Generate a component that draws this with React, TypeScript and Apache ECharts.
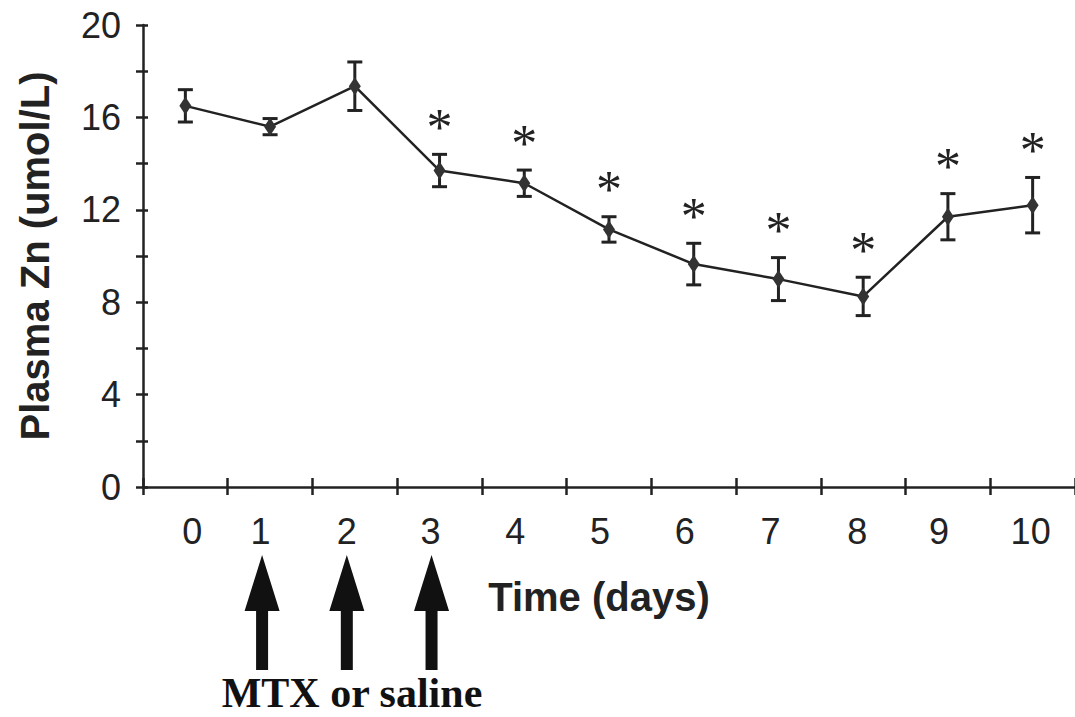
import React, { useEffect, useRef } from "react";
import * as echarts from "echarts";

const days = ["0", "1", "2", "3", "4", "5", "6", "7", "8", "9", "10"];
const means = [16.5, 15.6, 17.35, 13.7, 13.15, 11.15, 9.65, 9.0, 8.25, 11.7, 12.2];
const sems = [0.7, 0.35, 1.05, 0.7, 0.57, 0.55, 0.9, 0.93, 0.83, 1.0, 1.2];
const significant = [false, false, false, true, true, true, true, true, true, true, true];
const arrowDays = ["1", "2", "3"];
const yMin = 0;
const yMax = 20;
const yLabelStep = 4;
const yTickStep = 2;

// presentation-only nudges of the day labels (px, relative to the category centre)
const labelNudge = [7, -9.5, -8, -9, -9, -9, -9, -8, -6, -9, -2];

const INK = "#222";

export default function App() {
  const ref = useRef<HTMLDivElement>(null);
  useEffect(() => {
    if (!ref.current) return;
    const chart = echarts.init(ref.current, undefined, { renderer: "svg" });
    const grid = { left: 143, top: 25, width: 936, height: 462 };
    const labelFont = { color: INK, fontSize: 36, fontFamily: "Liberation Sans, Arial" };
    const rich: any = {};
    labelNudge.forEach((d, i) => {
      rich["n" + i] = {
        ...labelFont,
        padding: d >= 0 ? [0, 0, 0, 2 * d] : [0, -2 * d, 0, 0],
      };
    });
    const option: any = {
      animation: false,
      backgroundColor: "#fff",
      grid,
      xAxis: [
        {
          type: "category",
          data: days,
          position: "bottom",
          boundaryGap: true,
          axisLine: { show: true, lineStyle: { color: INK, width: 2.5 } },
          axisTick: { show: true, length: 8, lineStyle: { color: INK, width: 2.5 } },
          axisLabel: {
            ...labelFont,
            margin: 26,
            interval: 0,
            formatter: (v: string, i: number) => `{n${i}|${v}}`,
            rich,
          },
          name: "Time (days)",
          nameLocation: "middle",
          nameGap: 90,
          nameTextStyle: {
            color: INK,
            fontSize: 40,
            fontWeight: "bold",
            fontFamily: "Liberation Sans, Arial",
            padding: [0, 20, 0, 0],
          },
        },
        {
          type: "category",
          data: days,
          position: "bottom",
          boundaryGap: true,
          axisLine: { show: false },
          axisTick: { show: true, inside: true, length: 9, lineStyle: { color: INK, width: 2.5 } },
          axisLabel: { show: false },
        },
      ],
      yAxis: [
        {
          type: "value",
          min: yMin,
          max: yMax,
          interval: yTickStep,
          position: "left",
          splitLine: { show: false },
          axisLine: { show: true, lineStyle: { color: INK, width: 2.5 } },
          axisTick: { show: true, length: 7, lineStyle: { color: INK, width: 2.5 } },
          axisLabel: {
            ...labelFont,
            margin: 22,
            formatter: (v: number) => (v % yLabelStep === 0 ? String(v) : ""),
          },
          name: "Plasma Zn (umol/L)",
          nameLocation: "middle",
          nameGap: 88,
          nameTextStyle: {
            color: INK,
            fontSize: 40,
            fontWeight: "bold",
            fontFamily: "Liberation Sans, Arial",
          },
        },
        {
          type: "value",
          min: yMin,
          max: yMax,
          interval: yTickStep,
          position: "left",
          splitLine: { show: false },
          axisLine: { show: false },
          axisTick: { show: true, inside: true, length: 5, lineStyle: { color: INK, width: 2.5 } },
          axisLabel: { show: false },
        },
      ],
      series: [
        {
          type: "custom",
          z: 1,
          data: days.map((d, i) => [i, means[i], sems[i]]),
          renderItem: (params: any, api: any) => {
            const x = api.value(0);
            const m = api.value(1);
            const e = api.value(2);
            const top = api.coord([x, m + e]);
            const bot = api.coord([x, m - e]);
            const hw = 7.5;
            const st = { stroke: INK, lineWidth: 3 };
            return {
              type: "group",
              children: [
                { type: "line", shape: { x1: top[0], y1: top[1], x2: bot[0], y2: bot[1] }, style: st },
                { type: "line", shape: { x1: top[0] - hw, y1: top[1], x2: top[0] + hw, y2: top[1] }, style: st },
                { type: "line", shape: { x1: bot[0] - hw, y1: bot[1], x2: bot[0] + hw, y2: bot[1] }, style: st },
              ],
            };
          },
        },
        {
          type: "line",
          z: 3,
          data: means,
          symbol: "diamond",
          symbolSize: [12, 18],
          itemStyle: { color: "#333" },
          lineStyle: { color: INK, width: 2.5 },
        },
        {
          type: "custom",
          z: 4,
          data: days
            .map((d, i) => [i, means[i] + sems[i], significant[i] ? 1 : 0])
            .filter((r) => r[2] === 1),
          renderItem: (params: any, api: any) => {
            const p = api.coord([api.value(0), api.value(1)]);
            return {
              type: "text",
              x: p[0],
              y: p[1] - 27,
              style: {
                text: "*",
                fill: INK,
                fontSize: 52,
                fontFamily: "Liberation Serif, Times New Roman",
                align: "center",
                verticalAlign: "middle",
              },
            };
          },
        },
      ],
    };
    chart.setOption(option);

    const arrows: any[] = arrowDays.map((d) => {
      const px = chart.convertToPixel({ xAxisIndex: 0 }, d) as number;
      const cx = px - 8;
      return {
        type: "polygon",
        shape: {
          points: [
            [cx, 555],
            [cx + 17.5, 611],
            [cx + 6, 611],
            [cx + 6, 670],
            [cx - 6, 670],
            [cx - 6, 611],
            [cx - 17.5, 611],
          ],
        },
        style: { fill: "#111" },
      };
    });
    chart.setOption({
      graphic: [
        ...arrows,
        {
          type: "text",
          x: 352,
          y: 693,
          style: {
            text: "MTX or saline",
            fill: "#111",
            fontSize: 42,
            fontWeight: "bold",
            fontFamily: "Liberation Serif, Times New Roman",
            align: "center",
            verticalAlign: "middle",
          },
        },
      ],
    });
    return () => chart.dispose();
  }, []);
  return (
    <div
      ref={ref}
      style={{ position: "fixed", left: 0, top: 0, width: 1075, height: 717, background: "#fff" }}
    />
  );
}
